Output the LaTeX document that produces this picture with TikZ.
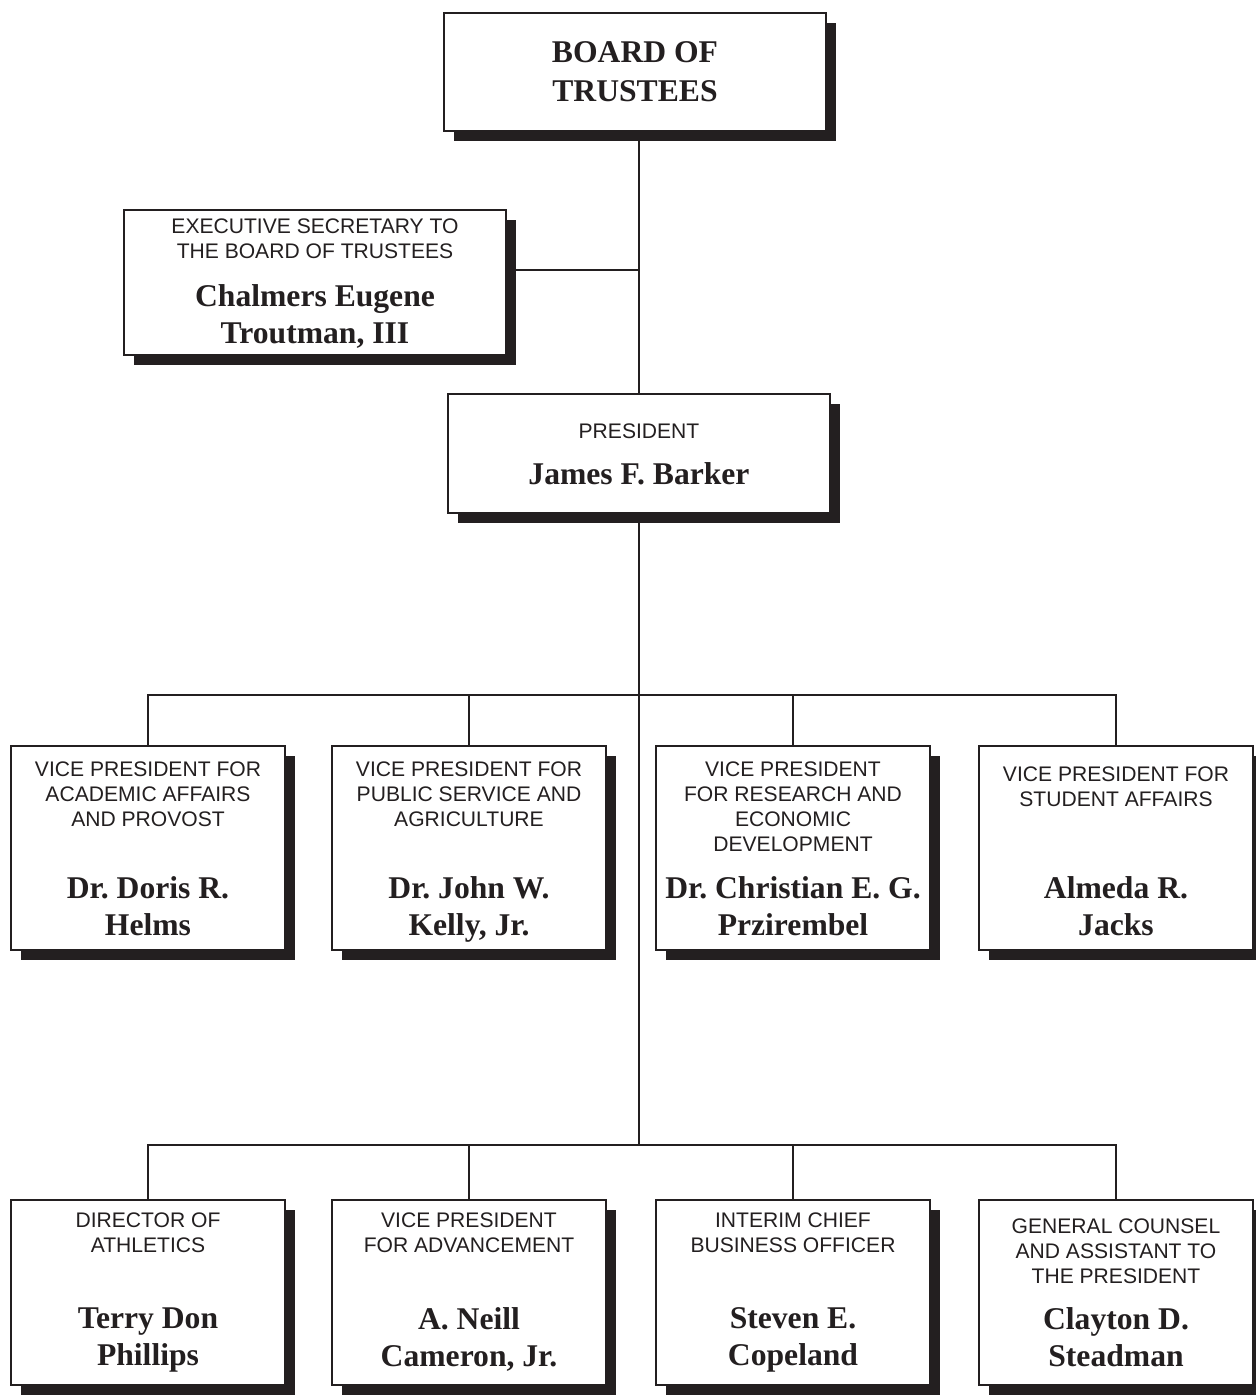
\documentclass[tikz,border=0pt]{standalone}
\usepackage{fontspec}
\setmainfont{Liberation Serif}
\setsansfont{Liberation Sans}
\usetikzlibrary{positioning,shadows}
\frenchspacing
\definecolor{ink}{HTML}{231F20}
\tikzset{
  orgbox/.style={rectangle, draw=ink, line width=1.1pt, fill=white, inner sep=0pt,
    drop shadow={shadow xshift=5.7pt, shadow yshift=-5.9pt, fill=ink, opacity=1}},
  bigbox/.style={orgbox, minimum width=7.64cm},
  rolebox/.style={orgbox, minimum width=5.48cm},
  vpbox/.style={rolebox, minimum height=4.08cm},
  lowbox/.style={rolebox, minimum height=3.7cm},
  role/.style={inner sep=0pt, outer sep=0pt, align=center, text=ink, font=\sffamily\fontsize{12}{14.2}\selectfont},
  person/.style={inner sep=0pt, outer sep=0pt, align=center, text=ink, font=\bfseries\fontsize{18}{21}\selectfont},
  link/.style={draw=ink, line width=1.1pt}
}

\begin{document}
\begin{tikzpicture}[x=0.02cm, y=-0.02cm]
\useasboundingbox (0,0) rectangle (1255,1397);

% top of the chart
\node (board) [bigbox, minimum height=2.36cm, align=center, text=ink, font=\bfseries\fontsize{18}{22}\selectfont] at (635,72) {BOARD OF\\TRUSTEES};
\node (exec) [bigbox, minimum height=2.9cm] at (315,282.5) {};
\node (pres) [bigbox, minimum height=2.38cm] at (639,453.5) {};

\node (exect) [role, below=5.4pt of exec.north] {EXECUTIVE SECRETARY TO\\THE BOARD OF TRUSTEES};
\node (execn) [person, below=43.1pt of exec.north] {Chalmers Eugene\\Troutman, III};
\node (prest) [role, below=17.3pt of pres.north] {PRESIDENT};
\node (presn) [person, below=39.7pt of pres.north] {James F. Barker};

% vice presidents
\node (vp1) [vpbox] at (148,848) {};
\node (vp2) [vpbox] at (469,848) {};
\node (vp3) [vpbox] at (793,848) {};
\node (vp4) [vpbox] at (1116,848) {};

\node (vp1t) [role, below=9.4pt of vp1.north] {VICE PRESIDENT FOR\\ACADEMIC AFFAIRS\\AND PROVOST};
\node (vp1n) [person, below=74.8pt of vp1.north] {Dr. Doris R.\\Helms};
\node (vp2t) [role, below=9.4pt of vp2.north] {VICE PRESIDENT FOR\\PUBLIC SERVICE AND\\AGRICULTURE};
\node (vp2n) [person, below=74.8pt of vp2.north] {Dr. John W.\\Kelly, Jr.};
\node (vp3t) [role, below=9.4pt of vp3.north] {VICE PRESIDENT\\FOR RESEARCH AND\\ECONOMIC\\DEVELOPMENT};
\node (vp3n) [person, below=74.8pt of vp3.north] {Dr. Christian E. G.\\Przirembel};
\node (vp4t) [role, below=12.2pt of vp4.north] {VICE PRESIDENT FOR\\STUDENT AFFAIRS};
\node (vp4n) [person, below=74.8pt of vp4.north] {Almeda R.\\Jacks};

% lower row
\node (low1) [lowbox] at (148,1292.5) {};
\node (low2) [lowbox] at (469,1292.5) {};
\node (low3) [lowbox] at (793,1292.5) {};
\node (low4) [lowbox] at (1116,1292.5) {};

\node (low1t) [role, below=7.7pt of low1.north] {DIRECTOR OF\\ATHLETICS};
\node (low1n) [person, below=61.8pt of low1.north] {Terry Don\\Phillips};
\node (low2t) [role, below=7.7pt of low2.north] {VICE PRESIDENT\\FOR ADVANCEMENT};
\node (low2n) [person, below=61.8pt of low2.north] {A. Neill\\Cameron, Jr.};
\node (low3t) [role, below=7.7pt of low3.north] {INTERIM CHIEF\\BUSINESS OFFICER};
\node (low3n) [person, below=61.8pt of low3.north] {Steven E.\\Copeland};
\node (low4t) [role, below=11pt of low4.north] {GENERAL COUNSEL\\AND ASSISTANT TO\\THE PRESIDENT};
\node (low4n) [person, below=61.8pt of low4.north] {Clayton D.\\Steadman};

\coordinate (execjoin) at (639,270);
\coordinate (bus1) at (639,695);
\coordinate (bus2) at (639,1145);

\draw [link] (board.south -| pres.north) -- (pres.north);
\draw [link] ([yshift=7.1pt]exec.east) -- (execjoin);
\draw [link] (pres.south) -- (bus2);
\draw [link] (vp1.north) |- (bus1);
\draw [link] (vp2.north) |- (bus1);
\draw [link] (vp3.north) |- (bus1);
\draw [link] (vp4.north) |- (bus1);
\draw [link] (low1.north) |- (bus2);
\draw [link] (low2.north) |- (bus2);
\draw [link] (low3.north) |- (bus2);
\draw [link] (low4.north) |- (bus2);
\end{tikzpicture}
\end{document}
